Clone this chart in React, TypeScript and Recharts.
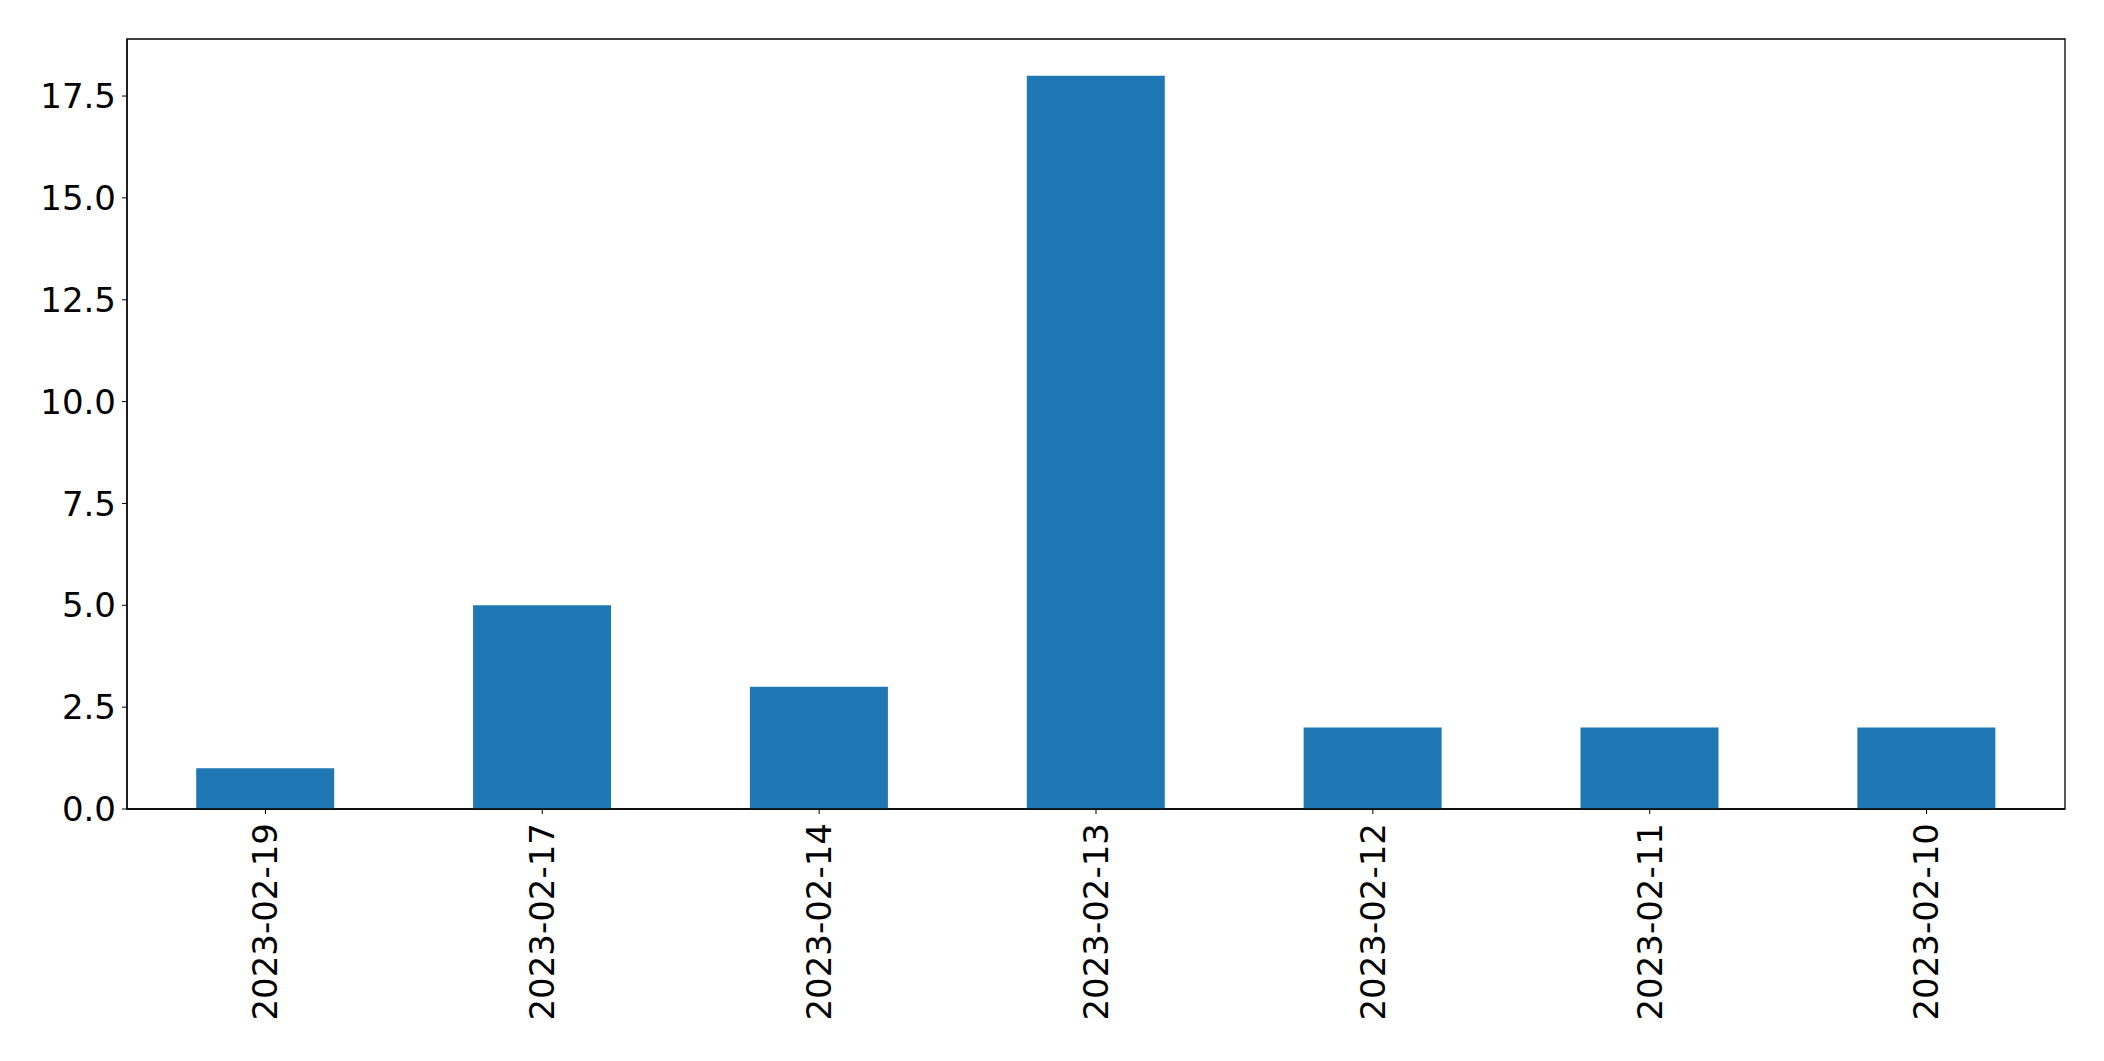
import { Bar, BarChart, ReferenceArea, XAxis, YAxis } from "recharts";

const dates = [
  "2023-02-19",
  "2023-02-17",
  "2023-02-14",
  "2023-02-13",
  "2023-02-12",
  "2023-02-11",
  "2023-02-10",
];
const counts = [1, 5, 3, 18, 2, 2, 2];
const yTicks = [0, 2.5, 5, 7.5, 10, 12.5, 15, 17.5];
const Y_MAX = 18.9;

const BAR_COLOR = "#1f77b4";
const FONT = "'DejaVu Sans', sans-serif";

function DateTick(props: any) {
  const { x, y, payload } = props;
  return (
    <text
      x={x}
      y={y}
      transform={`rotate(-90, ${x}, ${y})`}
      textAnchor="end"
      dy="0.35em"
      fontFamily={FONT}
      fontSize={34}
      fill="#000"
    >
      {payload.value}
    </text>
  );
}

export default function App() {
  const data = dates.map((date, i) => ({ date, count: counts[i] }));

  return (
    <div style={{ position: "absolute", left: 0, top: 0, background: "#fff" }}>
      <BarChart
        width={2104}
        height={1061}
        data={data}
        margin={{ top: 39, right: 39, bottom: 0, left: 0 }}
        barCategoryGap="25%"
      >
        <XAxis
          dataKey="date"
          height={252}
          interval={0}
          tick={<DateTick />}
          tickSize={5}
          tickMargin={9}
          tickLine={{ stroke: "#000" }}
          axisLine={{ stroke: "#000", strokeWidth: 1.3 }}
        />
        <YAxis
          width={127}
          domain={[0, Y_MAX]}
          ticks={yTicks}
          tickFormatter={(v: number) => v.toFixed(1)}
          tick={{ fill: "#000", fontSize: 34, fontFamily: FONT }}
          tickSize={5}
          tickMargin={6}
          tickLine={{ stroke: "#000" }}
          axisLine={{ stroke: "#000", strokeWidth: 1.3 }}
        />
        <Bar dataKey="count" fill={BAR_COLOR} isAnimationActive={false} />
        <ReferenceArea
          y1={0}
          y2={Y_MAX}
          stroke="#000"
          strokeWidth={1.3}
          fill="none"
          fillOpacity={0}
          strokeOpacity={1}
          ifOverflow="visible"
        />
      </BarChart>
    </div>
  );
}
